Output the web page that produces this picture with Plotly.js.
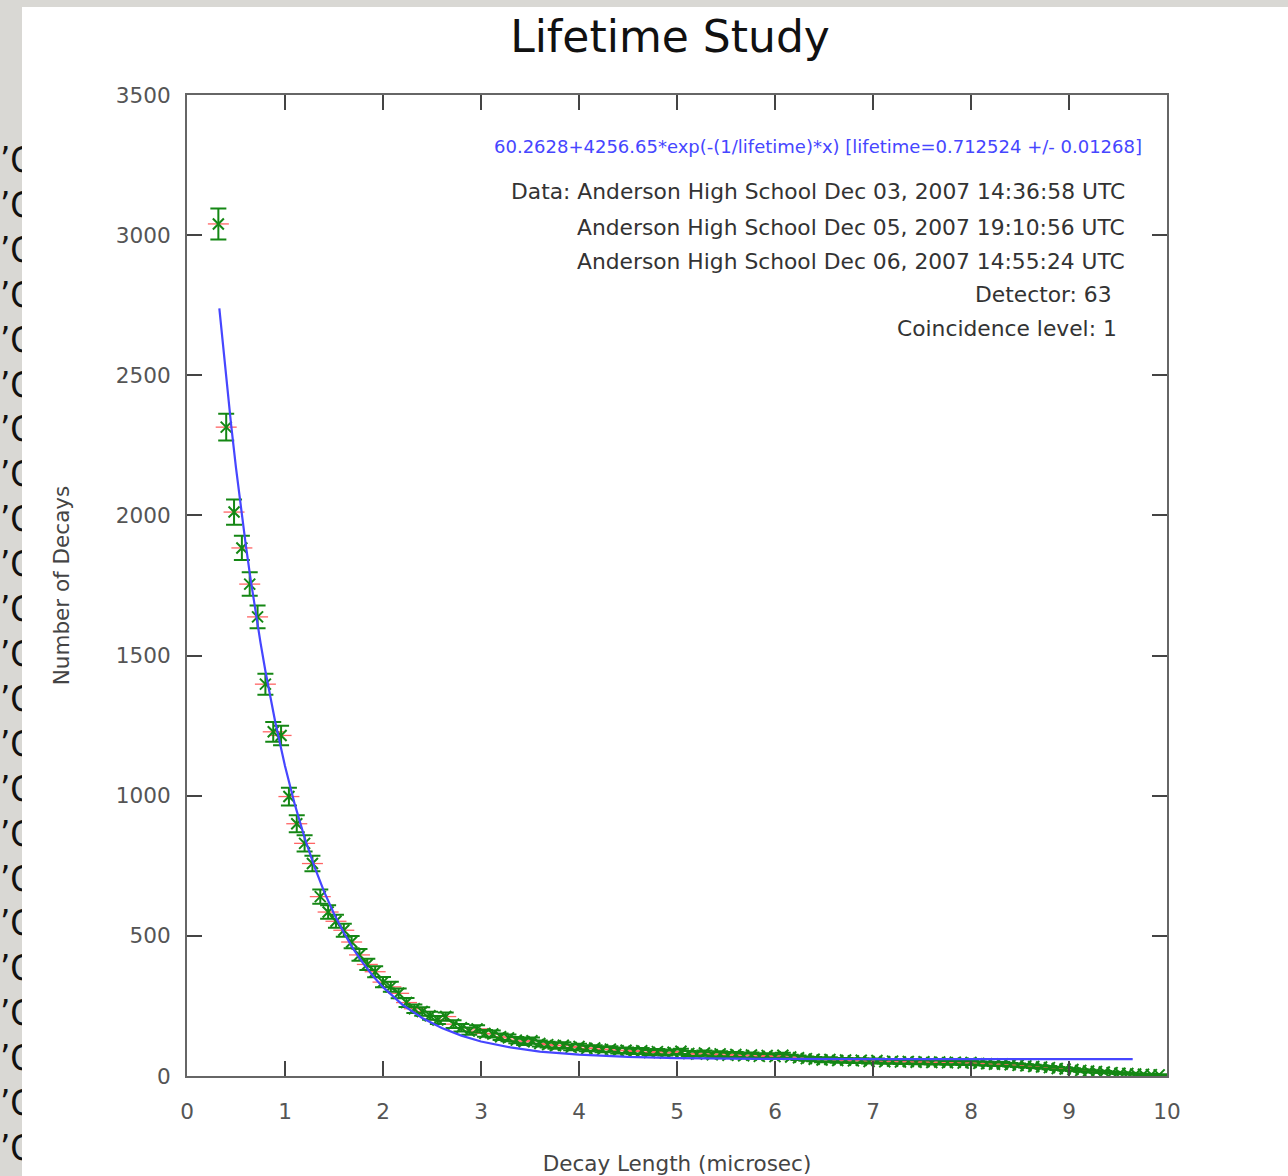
<!DOCTYPE html>
<html>
<head>
<meta charset="utf-8">
<script src="https://cdn.plot.ly/plotly-3.0.1.min.js"></script>
<style>
  html, body { margin: 0; padding: 0; width: 1288px; height: 1176px; overflow: hidden; background: #d9d8d4; }
  #strip { position: absolute; left: 0; top: 138px; width: 60px; font-family: "DejaVu Sans Condensed", "DejaVu Sans", sans-serif; font-size: 36px; line-height: 44.9px; color: #111; white-space: pre; }
  #sheet { position: absolute; left: 22px; top: 7px; right: 0; bottom: 0; background: #ffffff; }
  #chart { position: absolute; left: 0; top: 0; width: 1288px; height: 1176px; }
</style>
</head>
<body>
<div id="strip"></div>
<div id="sheet"></div>
<div id="chart"></div>
<script>
// ---- data ----
const stripText = "\u2019C";
const stripCount = 23;

const binStart = 0.32;   // first bin centre (microsec)
const binWidth = 0.08;   // bin spacing (microsec)
const decayCounts = [
  3040, 2315, 2012, 1884, 1755, 1638, 1398, 1228, 1215, 997,
  900, 830, 758, 640, 585, 552, 520, 478, 432, 398,
  372, 335, 318, 295, 262, 240, 230, 215, 200, 212,
  185, 172, 160, 168, 152, 150, 140, 136, 128, 122,
  126, 116, 112, 108, 110, 102, 105, 98, 100, 94,
  96, 90, 92, 88, 90, 84, 87, 82, 85, 88,
  80, 78, 82, 76, 79, 74, 77, 72, 75, 70,
  73, 69, 74, 68, 65, 62, 60, 57, 59, 55,
  57, 54, 56, 52, 55, 51, 53, 50, 52, 49,
  51, 48, 50, 47, 49, 46, 48, 45, 44, 42,
  43, 40, 38, 36, 34, 32, 30, 27, 25, 23,
  20, 18, 16, 14, 12, 10, 9, 7, 6, 5,
  4
];

const fitX = [0.33, 0.36, 0.40, 0.45, 0.50, 0.55, 0.60, 0.65, 0.70, 0.75, 0.80, 0.90, 1.00, 1.10, 1.20, 1.30, 1.40, 1.50, 1.60, 1.70, 1.80, 1.90, 2.00, 2.20, 2.40, 2.60, 2.80, 3.00, 3.30, 3.60, 4.00, 4.50, 5.00, 5.50, 6.00, 7.00, 8.00, 9.00, 9.65];
const fitY = [2739, 2629, 2488, 2324, 2170, 2027, 1894, 1770, 1654, 1546, 1445, 1264, 1106, 969, 850, 747, 657, 579, 511, 452, 401, 356, 317, 254, 207, 171, 144, 123, 102, 87, 76, 68, 64, 62, 61, 60.5, 60.3, 60.3, 60.3];

const xTicks = [0, 1, 2, 3, 4, 5, 6, 7, 8, 9, 10];
const yTicks = [0, 500, 1000, 1500, 2000, 2500, 3000, 3500];

const chartTitle = "Lifetime Study";
const xTitle = "Decay Length (microsec)";
const yTitle = "Number of Decays";
const fitLabel = "60.2628+4256.65*exp(-(1/lifetime)*x) [lifetime=0.712524 +/- 0.01268]";
const infoLines = [
  "Data: Anderson High School Dec 03, 2007 14:36:58 UTC",
  "Anderson High School Dec 05, 2007 19:10:56 UTC",
  "Anderson High School Dec 06, 2007 14:55:24 UTC",
  "Detector: 63",
  "Coincidence level: 1"
];

// ---- page decoration ----
document.getElementById('strip').textContent = Array(stripCount).fill(stripText).join("\n");

// ---- chart ----
const FONT = "DejaVu Sans, sans-serif";
const green = "rgb(20,135,20)";
const red = "rgb(255,100,100)";
const blue = "rgb(70,70,255)";

const traces = [
  {
    type: "scatter", mode: "markers",
    x0: binStart, dx: binWidth, y: decayCounts,
    marker: { symbol: "line-ew-open", size: 15, color: red, line: { color: red, width: 1.3 } },
    hoverinfo: "skip", showlegend: false
  },
  {
    type: "scatter", mode: "markers",
    x0: binStart, dx: binWidth, y: decayCounts,
    marker: { symbol: "x-thin-open", size: 11, color: green, line: { color: green, width: 2 } },
    error_y: { type: "sqrt", visible: true, color: green, thickness: 2, width: 8 },
    showlegend: false
  },
  {
    type: "scatter", mode: "lines",
    x: fitX, y: fitY,
    line: { color: blue, width: 2.2 },
    showlegend: false
  }
];

function px2x(px) { return (px - 187) / 980; }
function py2y(py) { return (1076 - py) / 981; }

const infoPos = [
  [1127, 192], [1127, 227], [1127, 261], [1114, 294], [1119, 328]
];

const annotations = [
  {
    text: fitLabel, xref: "paper", yref: "paper",
    x: px2x(1144), y: py2y(146), xanchor: "right", yanchor: "middle",
    showarrow: false, font: { family: FONT, size: 18, color: blue }
  }
].concat(infoLines.map((t, i) => ({
  text: t, xref: "paper", yref: "paper",
  x: px2x(infoPos[i][0]), y: py2y(infoPos[i][1]), xanchor: "right", yanchor: "middle",
  showarrow: false, font: { family: FONT, size: 21.8, color: "#333" }
})));

const axisCommon = {
  ticks: "inside", ticklen: 15, tickwidth: 2, tickcolor: "#444",
  showline: true, linecolor: "#666", linewidth: 2, mirror: "allticks",
  showgrid: false, zeroline: false,
  tickfont: { family: FONT, size: 21.6, color: "#555" }
};

const layout = {
  width: 1288, height: 1176,
  margin: { l: 187, r: 121, t: 95, b: 100, pad: 0 },
  paper_bgcolor: "rgba(0,0,0,0)",
  plot_bgcolor: "#ffffff",
  font: { family: FONT, color: "#333" },
  title: {
    text: chartTitle, font: { family: FONT, size: 44, color: "#111" },
    xref: "container", yref: "container",
    x: 670 / 1288, xanchor: "center", y: 1 - 37 / 1176, yanchor: "middle"
  },
  xaxis: Object.assign({}, axisCommon, {
    range: [0, 10], tickvals: xTicks, ticktext: xTicks.map(String),
    ticklabelstandoff: 15,
    title: { text: xTitle, font: { family: FONT, size: 21.5, color: "#444" }, standoff: 33 }
  }),
  yaxis: Object.assign({}, axisCommon, {
    range: [0, 3500], tickvals: yTicks, ticktext: yTicks.map(String),
    ticklabelstandoff: 10,
    title: { text: yTitle, font: { family: FONT, size: 21.5, color: "#444" }, standoff: 40 }
  }),
  annotations: annotations
};

Plotly.newPlot("chart", traces, layout, { displayModeBar: false, staticPlot: true });
</script>
</body>
</html>
